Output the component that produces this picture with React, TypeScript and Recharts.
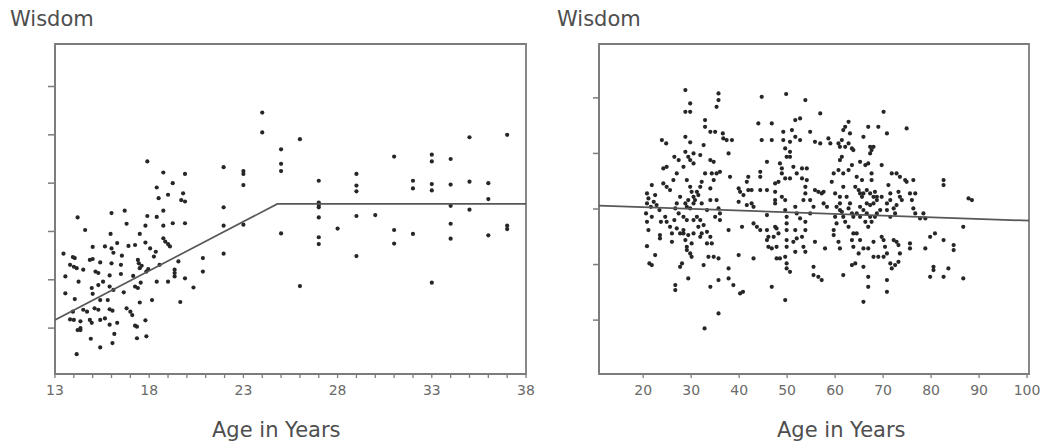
import React from 'react'
import {
  ScatterChart,
  Scatter,
  XAxis,
  YAxis,
  ReferenceArea,
} from 'recharts'

// left panel: ages 13-38
const teenPoints: [number, number][] = [
  [17.9, 4.45], [18.75, 4.22], [19.9, 4.19], [18.4, 3.91], [19.25, 4.0], [18.5, 3.69], [19.0, 3.76],
  [19.8, 3.79], [19.7, 3.65], [19.9, 3.62], [16.7, 3.43], [16.0, 3.38], [18.75, 3.43], [14.2, 3.29],
  [17.9, 3.32], [18.4, 3.3], [16.8, 3.16], [17.8, 3.12], [18.75, 3.12], [19.25, 3.17], [19.9, 3.17],
  [14.6, 3.03], [15.95, 2.95], [17.5, 2.95], [16.3, 2.76], [15.0, 2.68], [15.65, 2.69], [16.0, 2.65],
  [16.9, 2.7], [17.25, 2.72], [17.8, 2.77], [18.75, 2.86], [18.85, 2.79], [19.0, 2.74], [19.1, 2.69],
  [18.35, 2.58], [19.55, 2.38], [13.45, 2.54], [13.95, 2.47], [14.05, 2.45], [15.4, 2.36], [16.1, 2.56],
  [16.55, 2.5], [17.45, 2.34], [17.5, 2.24], [17.6, 2.29], [17.95, 2.22], [18.55, 2.31], [19.35, 2.21],
  [19.35, 2.14], [19.35, 2.07], [13.8, 2.31], [14.0, 2.27], [14.15, 2.24], [13.55, 2.07], [14.5, 2.21],
  [14.85, 2.41], [15.15, 2.17], [15.3, 2.14], [15.9, 2.09], [16.5, 2.12], [17.15, 2.08], [17.85, 2.17],
  [18.4, 1.96], [19.0, 1.96], [19.9, 2.03], [20.85, 2.45], [20.85, 2.17], [20.35, 1.84], [14.25, 1.96],
  [13.55, 1.72], [14.05, 1.6], [14.95, 1.83], [15.0, 1.71], [15.3, 1.89], [15.55, 1.96], [15.9, 1.86],
  [16.1, 1.79], [16.65, 1.74], [17.25, 1.86], [17.4, 1.83], [17.55, 1.94], [15.4, 1.58], [15.8, 1.58],
  [17.5, 1.53], [18.15, 1.58], [19.65, 1.54], [13.95, 1.34], [14.5, 1.38], [14.7, 1.34], [15.1, 1.41],
  [15.3, 1.38], [15.9, 1.39], [16.05, 1.36], [16.8, 1.41], [17.0, 1.34], [17.1, 1.27], [13.8, 1.18],
  [14.0, 1.17], [14.35, 1.14], [14.35, 1.0], [14.85, 1.17], [14.95, 1.11], [15.4, 1.17], [15.65, 1.2],
  [15.9, 1.07], [16.3, 1.11], [17.25, 1.05], [17.35, 1.03], [17.8, 1.16], [14.2, 0.96], [14.35, 0.96],
  [16.15, 0.88], [14.9, 0.78], [15.4, 0.6], [16.05, 0.69], [17.35, 0.79], [17.85, 0.83], [14.15, 0.46],
  [15.0, 2.43], [16.0, 2.34], [16.5, 2.31], [17.4, 2.41], [18.05, 2.65], [18.25, 2.48],
  [21.95, 4.33], [21.95, 3.5], [21.95, 3.12], [21.95, 2.54], [23, 4.25], [23, 4.19], [23, 3.96],
  [23, 3.14], [24, 5.46], [24, 5.05], [25, 4.7], [25, 4.4], [25, 4.25], [25, 2.96], [26, 4.91],
  [26, 1.87], [27, 4.05], [27, 3.6], [27, 3.55], [27, 3.5], [27, 3.29], [27, 2.88], [27, 2.74],
  [28, 3.06], [29, 4.19], [29, 3.95], [29, 3.83], [29, 3.32], [29, 2.49], [30, 3.34], [31, 4.55],
  [31, 3.03], [31, 2.75], [32, 4.05], [32, 3.89], [32, 2.95], [33, 4.59], [33, 4.45], [33, 3.98],
  [33, 3.85], [33, 1.94], [34, 4.5], [34, 3.97], [34, 3.53], [34, 3.16], [34, 2.85], [35, 4.95],
  [35, 4.03], [35, 3.45], [36, 4.0], [36, 3.67], [36, 2.92], [37, 5.0], [37, 3.12], [37, 3.05],
]
const teenTrendAges = [13, 24.8, 38]
const teenTrendWisdom = [1.17, 3.57, 3.57]
const teenTicks = Array.from({ length: 26 }, (_, i) => 13 + i)
const teenLabelAges = [13, 18, 23, 28, 33, 38]

// right panel: ages 20-90
const adultPoints: [number, number][] = [
  [20.8, 3.28], [21.1, 3.19], [20.8, 3.1], [21.6, 3.04], [22.2, 3.13], [22.8, 3.07], [23.4, 2.98],
  [21.8, 3.43], [22.5, 3.25], [20.6, 2.92], [20.8, 2.77], [21.1, 2.62], [21.8, 2.86], [20.8, 2.33],
  [22.5, 2.17], [21.8, 1.99], [21.3, 2.02], [23.9, 4.24], [24.8, 4.18], [23.7, 2.77], [23.5, 2.53],
  [23.5, 2.47], [24.2, 3.73], [24.9, 3.76], [24.2, 3.46], [24.9, 3.4], [25.6, 3.34], [24.6, 2.86],
  [24.9, 2.77], [25.6, 2.68], [26.0, 2.56], [26.0, 2.41],
  [26.5, 3.94], [27.4, 3.88], [27.0, 3.64], [26.3, 3.52], [27.7, 3.22], [27.0, 3.1], [26.7, 3.01],
  [27.4, 2.92], [28.4, 2.86], [29.1, 2.8], [26.5, 2.8], [27.0, 2.65], [27.7, 2.56], [28.4, 2.62],
  [28.8, 2.44], [29.1, 2.32], [29.8, 2.2], [30.1, 2.14], [28.1, 2.02], [27.7, 1.96], [29.4, 1.75],
  [26.7, 1.63], [26.7, 1.54], [28.8, 5.14], [29.8, 4.9], [28.8, 4.75], [29.8, 4.75], [28.8, 4.3],
  [29.8, 4.2], [28.8, 4.03], [29.4, 3.94], [30.5, 3.82], [29.8, 3.88], [28.4, 3.76], [30.5, 4.0],
  [29.1, 3.52], [29.8, 3.4], [30.1, 3.31], [30.5, 3.22], [29.4, 3.16], [30.5, 3.1], [28.8, 3.1],
  [29.1, 3.04], [29.8, 3.01], [28.4, 2.56], [29.4, 2.53], [30.5, 2.56], [30.1, 2.38], [29.1, 2.26],
  [31.9, 3.97], [32.6, 4.15], [32.9, 4.6], [32.9, 4.48], [34.0, 4.39], [35.0, 4.39], [35.7, 5.08],
  [35.7, 4.96], [35.3, 4.84], [36.6, 4.36], [36.7, 4.27], [37.4, 4.24], [34.0, 3.88], [34.7, 3.85],
  [34.3, 3.64], [32.9, 3.64], [32.2, 3.49], [31.9, 3.4], [31.2, 3.31], [30.8, 3.16], [31.5, 3.25],
  [32.2, 3.1], [33.3, 2.98], [34.0, 3.16], [34.0, 3.37], [34.7, 3.52], [35.3, 3.16], [35.7, 3.01],
  [36.0, 2.92], [35.3, 3.64], [36.0, 3.67], [31.2, 2.86], [31.9, 2.8], [32.6, 2.71], [32.2, 2.56],
  [31.9, 2.5], [33.3, 2.59], [34.0, 2.5], [34.3, 2.38], [33.3, 2.38], [33.6, 2.14], [34.7, 2.14],
  [35.7, 2.11], [32.6, 1.99], [34.0, 1.6], [35.7, 1.72], [35.7, 1.12], [32.8, 0.85], [31.5, 2.68],
  [30.5, 2.8], [35.0, 2.86], [36.0, 2.8],
  [37.8, 4.0], [38.1, 3.58], [37.8, 2.62], [37.8, 1.93], [37.8, 1.75], [38.8, 1.63], [40.2, 1.48],
  [39.9, 3.37], [40.2, 3.31], [39.9, 3.13], [40.9, 3.25], [41.6, 3.49], [41.9, 3.58], [41.9, 3.34],
  [42.6, 3.34], [40.6, 2.68], [39.9, 2.17], [40.8, 1.51], [42.6, 3.1], [43.0, 3.04], [41.6, 3.07],
  [43.0, 2.74], [43.7, 2.68], [44.4, 2.62], [43.0, 2.11], [38.5, 4.24],
  [44.7, 5.02], [44.0, 4.54], [46.8, 4.54], [44.7, 4.24], [46.8, 4.24], [45.8, 3.85], [44.4, 3.67],
  [44.4, 3.58], [44.4, 3.34], [45.8, 3.34], [47.5, 3.46], [47.5, 3.31], [47.5, 3.16], [48.2, 3.49],
  [48.5, 3.82], [48.9, 3.73], [48.9, 3.64], [49.6, 3.55], [50.6, 3.55], [47.5, 3.1], [45.8, 2.89],
  [45.8, 2.62], [46.1, 2.5], [45.8, 2.44], [46.1, 2.32], [46.8, 2.29], [47.5, 2.68], [47.8, 2.65],
  [48.2, 2.56], [47.2, 2.5], [47.8, 2.32], [47.8, 2.11], [48.5, 2.11], [49.6, 2.14], [49.9, 2.02],
  [49.9, 1.93], [50.6, 1.87], [49.9, 2.86], [49.9, 2.74], [49.9, 2.62], [49.9, 2.44], [49.9, 2.32],
  [49.6, 2.98], [46.8, 1.6], [49.6, 1.36], [49.2, 4.39], [49.2, 4.24], [50.6, 4.21], [49.6, 4.09],
  [49.9, 3.94], [50.6, 3.94], [48.9, 3.22], [49.6, 3.16],
  [49.8, 5.07], [51.0, 4.42], [51.7, 4.6], [52.7, 4.63], [53.8, 4.96], [51.7, 4.3], [52.7, 4.24],
  [50.6, 4.03], [51.3, 3.76], [52.0, 3.64], [53.1, 3.73], [53.1, 3.55], [54.1, 3.73], [54.1, 3.52],
  [53.8, 3.4], [53.8, 3.28], [53.4, 3.16], [51.7, 3.04], [52.0, 2.92], [52.7, 2.83], [53.8, 2.77],
  [53.8, 2.62], [53.1, 2.5], [52.0, 2.47], [51.7, 2.62], [51.3, 2.41], [53.4, 2.32], [51.7, 2.23],
  [53.8, 2.23], [55.8, 3.34], [56.5, 3.31], [57.2, 3.28], [54.8, 3.16], [55.5, 3.04], [54.8, 2.92],
  [55.8, 2.41], [55.5, 1.96], [55.5, 1.81], [56.5, 1.78], [57.2, 1.72], [54.8, 4.39], [55.8, 4.21],
  [56.9, 4.18], [56.9, 4.72], [57.6, 3.31],
  [57.6, 3.1], [58.3, 3.04], [58.6, 4.27], [59.3, 3.49], [59.7, 3.64], [60.7, 3.7], [61.0, 3.88],
  [61.4, 3.94], [60.0, 3.28], [61.0, 3.22], [60.3, 3.04], [61.0, 2.98], [61.4, 2.95], [60.0, 2.86],
  [60.3, 2.74], [59.7, 2.62], [59.7, 2.53], [60.7, 2.41], [61.0, 2.29], [57.9, 2.29], [59.0, 4.18],
  [60.7, 4.18], [61.0, 4.12], [61.4, 4.24], [61.7, 4.42], [62.1, 4.48], [62.8, 4.57], [63.1, 4.36],
  [62.1, 4.12], [62.8, 4.18], [63.5, 4.09], [63.8, 4.06], [61.7, 3.64], [62.8, 3.7], [61.7, 3.4],
  [63.5, 3.79], [62.4, 3.22], [63.1, 3.1], [62.8, 3.01], [63.5, 2.92], [61.7, 2.86], [62.1, 2.77],
  [62.8, 2.68], [63.8, 2.56], [63.5, 2.44], [63.8, 2.32], [61.7, 1.81], [63.5, 1.99], [61.0, 3.1],
  [64.2, 2.02], [64.5, 3.58], [64.2, 3.4], [64.9, 3.34], [65.2, 3.28], [65.6, 3.22], [65.9, 3.28],
  [66.6, 3.34], [67.3, 3.28], [68.0, 3.22], [68.3, 3.31], [68.7, 3.22], [65.9, 4.3], [66.9, 4.48],
  [67.3, 4.12], [67.6, 4.06], [68.0, 4.12], [67.3, 4.0], [66.9, 3.82], [66.3, 3.79], [65.2, 3.85],
  [67.6, 3.64], [67.6, 3.52], [65.6, 3.52], [66.6, 3.1], [67.3, 3.07], [65.2, 3.04], [65.9, 2.98],
  [66.6, 2.92], [67.3, 2.86], [66.3, 2.77], [66.9, 2.68], [67.6, 2.77], [68.3, 2.86], [68.7, 2.92],
  [69.4, 2.98], [68.0, 3.1], [65.2, 2.86], [64.5, 2.92], [63.8, 2.86], [64.5, 2.56], [65.2, 2.44],
  [65.9, 2.29], [66.9, 2.29], [64.9, 2.2], [65.9, 1.96], [66.9, 1.78], [66.9, 1.6], [65.9, 1.33],
  [69.0, 4.48], [70.1, 4.75], [70.8, 4.36], [69.7, 3.79], [68.7, 3.16], [69.7, 3.22], [69.7, 2.5],
  [70.1, 2.44], [68.0, 2.41], [68.0, 2.14], [69.0, 2.14], [70.1, 2.14], [70.4, 2.32], [70.8, 2.2],
  [70.8, 1.72], [70.8, 1.51], [70.8, 3.1], [71.1, 3.43], [71.5, 3.28], [71.5, 3.16], [70.8, 2.98],
  [71.8, 3.64], [72.8, 3.64], [73.5, 3.58], [74.6, 3.52], [74.9, 3.49], [73.2, 3.31], [73.5, 3.22],
  [73.9, 3.16], [72.8, 3.07], [72.2, 3.01], [72.5, 2.92], [71.5, 2.86], [72.2, 2.44], [72.8, 2.41],
  [73.2, 2.35], [73.5, 2.2], [73.2, 2.05], [72.5, 1.99], [71.5, 2.02], [71.8, 1.93], [74.9, 4.45],
  [75.6, 3.28], [76.3, 3.52], [76.7, 3.28], [76.0, 3.16], [76.3, 3.01], [76.7, 2.92], [75.6, 2.38],
  [75.6, 2.29], [78.4, 2.92], [77.7, 2.83], [78.8, 2.83], [78.8, 2.29],
  [79.8, 2.5], [80.8, 2.56], [80.5, 1.96], [80.5, 1.9], [79.8, 1.78], [82.6, 3.52], [82.6, 3.43],
  [82.6, 2.44], [83.6, 1.93], [82.6, 1.78], [84.7, 2.35], [84.7, 2.26], [86.7, 2.68], [86.7, 1.75],
  [87.8, 3.19], [88.5, 3.16],
]
const adultTrendAges = [10.8, 100.4]
const adultTrendWisdom = [3.06, 2.79]
const adultTicks = [20, 30, 40, 50, 60, 70, 80, 90, 100]

const wisdomTicksTeen = [1, 2, 3, 4, 5, 6]
const wisdomTicksAdult = [1, 2, 3, 4, 5]

const FONT = '"DejaVu Sans", Verdana, sans-serif'
const AXIS = '#7c7c7c'

const toRows = (pts: [number, number][]) => pts.map(([age, wisdom]) => ({ age, wisdom }))
const toLine = (ages: number[], vals: number[]) => ages.map((age, i) => ({ age, wisdom: vals[i] }))

const Dot = (props: any) => <circle cx={props.cx} cy={props.cy} r={2.1} fill="#262626" />
const NoDot = () => <g />

const tickStyle = { fontSize: 14, fill: '#6a6a6a', fontFamily: FONT }

const titleStyle: React.CSSProperties = {
  position: 'absolute',
  fontFamily: FONT,
  fontSize: 21,
  lineHeight: '21px',
  color: '#4e4e4e',
  whiteSpace: 'nowrap',
}

function Panel({
  width,
  left,
  right,
  points,
  trend,
  xDomain,
  yDomain,
  xTicks,
  xLabel,
  yTicks,
  yTickSize,
}: {
  width: number
  left: number
  right: number
  points: { age: number; wisdom: number }[]
  trend: { age: number; wisdom: number }[]
  xDomain: [number, number]
  yDomain: [number, number]
  xTicks: number[]
  xLabel: (v: number) => string
  yTicks: number[]
  yTickSize: number
}) {
  return (
    <ScatterChart
      width={width}
      height={448}
      margin={{ top: 44, right, bottom: 44, left: 0 }}
      style={{ position: 'absolute', left: 0, top: 0 }}
    >
      <XAxis
        type="number"
        dataKey="age"
        domain={xDomain}
        allowDataOverflow
        ticks={xTicks}
        interval={0}
        tickFormatter={xLabel}
        tick={tickStyle}
        tickSize={4}
        tickMargin={7}
        height={30}
        axisLine={{ stroke: AXIS, strokeWidth: 1.8 }}
        tickLine={{ stroke: AXIS, strokeWidth: 1.3 }}
      />
      <YAxis
        type="number"
        dataKey="wisdom"
        domain={yDomain}
        allowDataOverflow
        ticks={yTicks}
        interval={0}
        tickFormatter={() => ''}
        tickSize={yTickSize}
        width={left}
        axisLine={{ stroke: AXIS, strokeWidth: 1.8 }}
        tickLine={{ stroke: AXIS, strokeWidth: 1.5 }}
      />
      <ReferenceArea
        x1={xDomain[0]}
        x2={xDomain[1]}
        y1={yDomain[0]}
        y2={yDomain[1]}
        fill="none"
        stroke={AXIS}
        strokeWidth={1.8}
        ifOverflow="visible"
      />
      <Scatter data={points} shape={Dot} isAnimationActive={false} />
      <Scatter
        data={trend}
        shape={NoDot}
        line={{ stroke: '#585858', strokeWidth: 1.7 }}
        lineType="joint"
        isAnimationActive={false}
      />
    </ScatterChart>
  )
}

export default function App() {
  return (
    <div
      style={{
        position: 'absolute',
        left: 0,
        top: 0,
        width: 1040,
        height: 448,
        background: '#fff',
        overflow: 'hidden',
      }}
    >
      <div style={{ position: 'absolute', left: 0, top: 0, width: 540, height: 448 }}>
        <Panel
          width={540}
          left={55}
          right={14}
          points={toRows(teenPoints)}
          trend={toLine(teenTrendAges, teenTrendWisdom)}
          xDomain={[13, 38]}
          yDomain={[0.05, 6.88]}
          xTicks={teenTicks}
          xLabel={(v) => (teenLabelAges.includes(v) ? String(v) : '')}
          yTicks={wisdomTicksTeen}
          yTickSize={7}
        />
      </div>
      <div style={{ position: 'absolute', left: 540, top: 0, width: 500, height: 448 }}>
        <Panel
          width={500}
          left={59}
          right={11}
          points={toRows(adultPoints)}
          trend={toLine(adultTrendAges, adultTrendWisdom)}
          xDomain={[10.8, 100.4]}
          yDomain={[0.03, 5.97]}
          xTicks={adultTicks}
          xLabel={(v) => String(v)}
          yTicks={wisdomTicksAdult}
          yTickSize={6}
        />
      </div>
      <div style={{ ...titleStyle, left: 10, top: 9 }}>Wisdom</div>
      <div style={{ ...titleStyle, left: 557, top: 9 }}>Wisdom</div>
      <div style={{ ...titleStyle, left: 212, top: 420 }}>Age in Years</div>
      <div style={{ ...titleStyle, left: 777, top: 420 }}>Age in Years</div>
    </div>
  )
}
